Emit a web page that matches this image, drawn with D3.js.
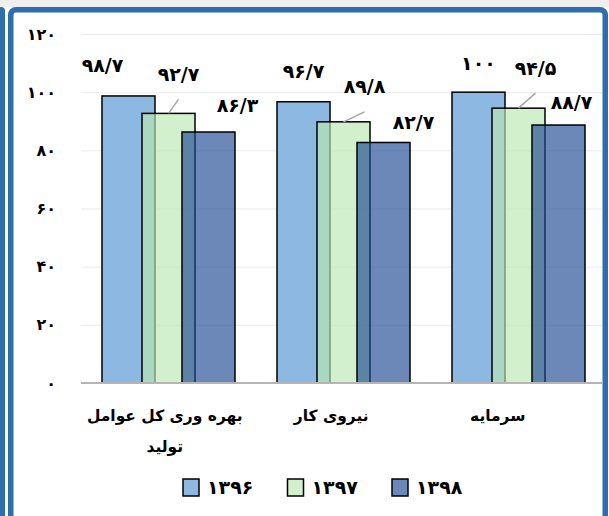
<!DOCTYPE html>
<html>
<head>
<meta charset="utf-8">
<script src="https://cdnjs.cloudflare.com/ajax/libs/d3/7.8.5/d3.min.js"></script>
<style>
  body { margin: 0; background: #fff; }
  svg text { font-family: "DejaVu Sans", sans-serif; font-weight: bold; fill: #000; }
</style>
</head>
<body>
<div id="vis"></div>
<script>
var categories = ['بهره وری کل عوامل تولید', 'نیروی کار', 'سرمایه'];
var series = ['۱۳۹۶', '۱۳۹۷', '۱۳۹۸'];
var values_1396 = [98.7, 96.7, 100];
var values_1397 = [92.7, 89.8, 94.5];
var values_1398 = [86.3, 82.7, 88.7];
var value_labels_1396 = ['۹۸/۷', '۹۶/۷', '۱۰۰'];
var value_labels_1397 = ['۹۲/۷', '۸۹/۸', '۹۴/۵'];
var value_labels_1398 = ['۸۶/۳', '۸۲/۷', '۸۸/۷'];
var y_ticks = [0, 20, 40, 60, 80, 100, 120];
var y_tick_labels = ['۰', '۲۰', '۴۰', '۶۰', '۸۰', '۱۰۰', '۱۲۰'];
var category_lines = [['بهره وری کل عوامل', 'تولید'], ['نیروی کار'], ['سرمایه']];

var colors = ['#8db8e2', '#bae8b1', '#1d4892'];
var fill_opacity = [1, 0.65, 0.65];

// hand placed label offsets (dx, dy from bar top centre), like in the original sheet
var label_offsets = [
  [[-26, -31], [0, -30], [0, -29]],
  [[10, -39], [21, -35], [17, -40]],
  [[29, -27], [30, -20], [13, -23]]
];

var width = 609, height = 516;

var svg = d3.select('#vis')
    .append('svg')
    .attr('width', width)
    .attr('height', height);

// page background and frame
svg.append('rect').attr('width', width).attr('height', height).attr('fill', '#fff');
svg.append('rect').attr('width', width).attr('height', 7).attr('fill', '#efefef');
svg.append('path')
    .attr('d', 'M0,7 L1,7 Q5,7 5,11 L5,516 L0,516 Z')
    .attr('fill', '#2e6eae');
svg.append('rect')
    .attr('x', 10.75).attr('y', 9.75)
    .attr('width', 594.5).attr('height', 520)
    .attr('rx', 5)
    .attr('fill', '#fff')
    .attr('stroke', '#2e6eae')
    .attr('stroke-width', 5.5);

var plot_left = 81, plot_right = 602;

var y_scale = d3.scaleLinear().domain([0, 120]).range([383, 34]);

var x_scale = d3.scaleBand().domain(categories).range([81, 606]);
var x_series = d3.scalePoint().domain(series).range([-40, 40]);
var x_labels = d3.scaleBand().domain(categories).range([81.5, 581]);
var bar_width = 53;

// gridlines
svg.append('g')
    .selectAll('line')
    .data(y_ticks.filter(function(d) { return d > 0; }))
    .enter()
    .append('line')
    .attr('x1', plot_left).attr('x2', plot_right)
    .attr('y1', function(d) { return y_scale(d) + 0.5; })
    .attr('y2', function(d) { return y_scale(d) + 0.5; })
    .attr('stroke', '#ebebeb');

// y axis labels
var y_axis = d3.axisLeft(y_scale)
    .tickValues(y_ticks)
    .tickSize(0)
    .tickPadding(0)
    .tickFormat(function(d, i) { return y_tick_labels[i]; });

var y_g = svg.append('g')
    .attr('transform', 'translate(56,0)')
    .call(y_axis);
y_g.select('.domain').remove();
y_g.selectAll('text')
    .style('font-size', '16px')
    .style('font-family', '"DejaVu Sans", sans-serif')
    .style('font-weight', 'bold');

// bars
var all_values = [values_1396, values_1397, values_1398];
var all_labels = [value_labels_1396, value_labels_1397, value_labels_1398];

var bar_data = [];
series.forEach(function(s, si) {
  categories.forEach(function(c, ci) {
    bar_data.push({series: s, si: si, category: c, ci: ci, value: all_values[si][ci], label: all_labels[si][ci]});
  });
});

function bar_center(d) {
  return x_scale(d.category) + x_scale.bandwidth() / 2 + x_series(d.series);
}

svg.append('g')
    .selectAll('.bar')
    .data(bar_data)
    .enter()
    .append('rect')
    .attr('class', 'bar')
    .attr('x', function(d) { return bar_center(d) - bar_width / 2; })
    .attr('y', function(d) { return y_scale(d.value); })
    .attr('width', bar_width)
    .attr('height', function(d) { return y_scale(0) - y_scale(d.value); })
    .attr('fill', function(d) { return colors[d.si]; })
    .attr('fill-opacity', function(d) { return fill_opacity[d.si]; })
    .attr('stroke', '#000')
    .attr('stroke-width', 1.5);

// baseline
svg.append('line')
    .attr('x1', plot_left).attr('x2', plot_right)
    .attr('y1', y_scale(0)).attr('y2', y_scale(0))
    .attr('stroke', '#b5b5b5')
    .attr('stroke-width', 2);

// leader lines for the middle series
svg.append('g')
    .selectAll('line')
    .data(bar_data.filter(function(d) { return d.si == 1; }))
    .enter()
    .append('line')
    .attr('x1', function(d) { return bar_center(d); })
    .attr('y1', function(d) { return y_scale(d.value); })
    .attr('x2', function(d) { return bar_center(d) + label_offsets[d.si][d.ci][0]; })
    .attr('y2', function(d) { return y_scale(d.value) + label_offsets[d.si][d.ci][1] + 25; })
    .attr('stroke', '#a6a6a6')
    .attr('stroke-width', 1.5);

// value labels
svg.append('g')
    .selectAll('text')
    .data(bar_data)
    .enter()
    .append('text')
    .attr('x', function(d) { return bar_center(d) + label_offsets[d.si][d.ci][0]; })
    .attr('y', function(d) { return y_scale(d.value) + label_offsets[d.si][d.ci][1]; })
    .attr('dy', '0.35em')
    .attr('text-anchor', 'middle')
    .style('font-size', '19px')
    .text(function(d) { return d.label; });

// category labels
var cat_g = svg.append('g')
    .selectAll('text')
    .data(categories)
    .enter()
    .append('text')
    .attr('text-anchor', 'middle')
    .attr('direction', 'rtl')
    .style('font-size', '15.5px');

cat_g.each(function(d, i) {
  var t = d3.select(this);
  category_lines[i].forEach(function(line, li) {
    t.append('tspan')
        .attr('x', x_labels(d) + x_labels.bandwidth() / 2)
        .attr('y', 416 + li * 31)
        .attr('dy', '0.35em')
        .text(line);
  });
});

// legend
var legend = svg.append('g')
    .selectAll('g')
    .data(series)
    .enter()
    .append('g')
    .attr('transform', function(d, i) { return 'translate(' + (183 + i * 104.5) + ',479)'; });

legend.append('rect')
    .attr('width', 16).attr('height', 17)
    .attr('fill', function(d, i) { return colors[i]; })
    .attr('fill-opacity', function(d, i) { return fill_opacity[i]; })
    .attr('stroke', '#000')
    .attr('stroke-width', 1.5);

legend.append('text')
    .attr('x', 24)
    .attr('y', 8.5)
    .attr('dy', '0.35em')
    .style('font-size', '19px')
    .text(function(d) { return d; });
</script>
</body>
</html>
